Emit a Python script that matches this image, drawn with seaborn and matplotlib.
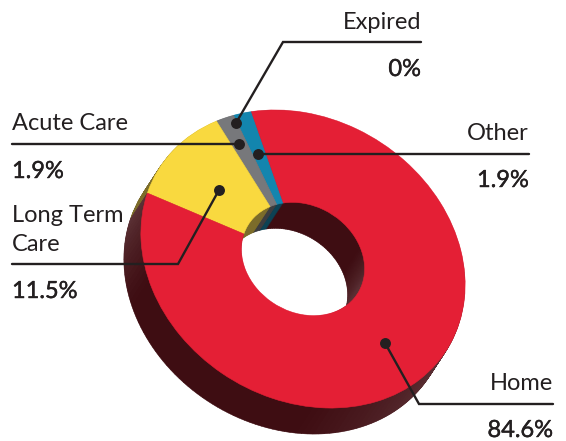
import matplotlib
matplotlib.use('Agg')
import matplotlib.pyplot as plt
import matplotlib.patheffects as pe
from matplotlib.colors import to_rgb
from matplotlib.transforms import Affine2D
import seaborn as sns

# --- data ---
categories = ['Other', 'Expired', 'Acute Care', 'Long Term Care', 'Home']
values = [1.9, 0, 1.9, 11.5, 84.6]
value_labels = ['1.9%', '0%', '1.9%', '11.5%', '84.6%']

face_colors = ['#1385ae', '#77787b', '#77787b', '#f9d93f', '#e41f35']
side_colors = ['#0c4254', '#3d3d3f', '#3d3d3f', '#7c6c2a', '#3e0d12']
ink = '#231f20'

sns.set_theme(style='white')
plt.rcParams['font.family'] = ['Lato', 'DejaVu Sans']

W, H = 566, 441
START = 135.8
fig = plt.figure(figsize=(W / 100, H / 100), dpi=100)
ax = fig.add_axes([0, 0, 1, 1])


def ring(vals, colors, dx=0, dy=0):
    wedges, _ = ax.pie(vals, colors=colors, startangle=START, counterclock=True,
                       wedgeprops=dict(width=0.62, linewidth=0.4))
    # squash and tilt the disc, then move it on to the page
    tf = Affine2D().scale(170, 140).rotate_deg(-32).translate(303 + dx, H - 259 - dy)
    for w, c in zip(wedges, colors):
        w.set_edgecolor(c)
        w.set_transform(tf + ax.transData)


def lit(angle):
    # how much light the side of the Home slice catches at this disc angle
    a = angle % 360
    if 190 <= a < 225:
        return 0.16 * (225 - a) / 35
    if 300 <= a < 355:
        return 0.14 * (a - 300) / 55
    if a >= 355 or a < 15:
        return 0.14
    if 15 <= a < 50:
        return 0.14 * (50 - a) / 35
    return 0


# side of the Home slice is cut into thin strips only to shade it
n_strips = 150
strip = values[-1] / n_strips
side_vals = values[:-1] + [strip] * n_strips
base = START + sum(values[:-1]) * 3.6
dark = to_rgb(side_colors[-1])
side_shades = side_colors[:-1]
for k in range(n_strips):
    t = lit(base + (k + 0.5) * strip * 3.6)
    side_shades = side_shades + [tuple(c + (1 - c) * t for c in dark)]

# extruded side, back to front
steps = 40
for i in range(steps, 0, -1):
    ring(side_vals, side_shades, dx=-17 * i / steps, dy=26 * i / steps)
ring(values, face_colors)

# --- leader lines, image pixels ---
leaders = {
    'Expired': [(236, 123), (283, 42), (421, 42)],
    'Acute Care': [(239, 144), (12, 144)],
    'Other': [(258, 154), (529, 154)],
    'Long Term Care': [(219, 190), (178, 264), (12, 264)],
    'Home': [(385, 343), (419, 404), (553, 404)],
}
for name, pts in leaders.items():
    ax.plot([p[0] for p in pts], [H - p[1] for p in pts], color=ink, lw=1.7,
            solid_joinstyle='miter', zorder=5)
sns.scatterplot(x=[p[0][0] for p in leaders.values()], y=[H - p[0][1] for p in leaders.values()],
                color=ink, s=62, linewidth=0, zorder=6, ax=ax, legend=False)
ax.set_aspect('auto')
ax.set_xlim(0, W)
ax.set_ylim(0, H)
ax.axis('off')


def put(x, baseline, s, ha, stroke=0.0):
    t = ax.text(x, H - baseline, s, ha=ha, va='baseline', fontsize=17, color=ink)
    if stroke:
        # no medium weight installed, thicken the regular one
        t.set_path_effects([pe.withStroke(linewidth=stroke, foreground=ink)])


vals = dict(zip(categories, value_labels))
put(421, 29, 'Expired', 'right')
put(421, 76, vals['Expired'], 'right', 0.3)
put(12, 130, 'Acute Care', 'left')
put(12, 178, vals['Acute Care'], 'left', 0.3)
put(529, 140, 'Other', 'right')
put(529, 187, vals['Other'], 'right', 0.3)
put(12, 222, 'Long Term', 'left')
put(12, 251, 'Care', 'left')
put(12, 298, vals['Long Term Care'], 'left', 0.3)
put(553, 390, 'Home', 'right')
put(553, 437, vals['Home'], 'right', 0.3)

fig.savefig('out.png', dpi=100)
